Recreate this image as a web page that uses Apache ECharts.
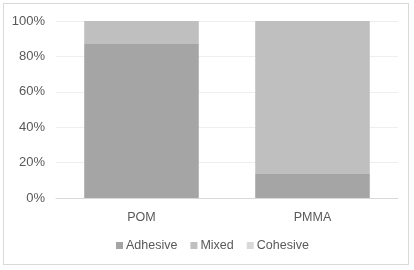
<!DOCTYPE html>
<html>
<head>
<meta charset="utf-8">
<script src="https://cdn.jsdelivr.net/npm/echarts@6/dist/echarts.min.js"></script>
<style>
  html, body { margin: 0; padding: 0; background: #fff; }
  #chart { position: absolute; left: 3px; top: 3px; width: 406px; height: 262px; border: 1px solid #d9d9d9; box-sizing: border-box; }
</style>
</head>
<body>
<div id="chart"></div>
<script>
// categories and shares (%)
const categories = ["POM", "PMMA"];
const adhesive = [87, 13.5];
const mixed = [13, 86.5];
const cohesive = [0, 0];

const yTicks = [0, 20, 40, 60, 80, 100];

const chart = echarts.init(document.getElementById("chart"));
const font = "Liberation Sans, Arial, sans-serif";
const option = {
  animation: false,
  grid: { left: 52, right: 10, top: 17, bottom: 66 },
  legend: {
    bottom: 7,
    left: 107,
    itemWidth: 7,
    itemHeight: 7,
    itemGap: 13,
    icon: "rect",
    textStyle: { color: "#595959", fontSize: 12.5, fontFamily: font, padding: [0, 0, 0, -2] },
    data: ["Adhesive", "Mixed", "Cohesive"]
  },
  xAxis: {
    type: "category",
    data: categories,
    axisLine: { lineStyle: { color: "#d9d9d9" } },
    axisTick: { show: false },
    axisLabel: { color: "#595959", fontSize: 12.5, fontFamily: font, margin: 13 }
  },
  yAxis: {
    type: "value",
    min: yTicks[0],
    max: yTicks[yTicks.length - 1],
    interval: 20,
    axisLine: { show: false },
    axisTick: { show: false },
    splitLine: { lineStyle: { color: "#eeeeee" } },
    axisLabel: { color: "#595959", fontSize: 13, fontFamily: font, margin: 11, formatter: "{value}%" }
  },
  series: [
    { name: "Adhesive", type: "bar", stack: "t", data: adhesive, barWidth: "67%", itemStyle: { color: "#a5a5a5" } },
    { name: "Mixed", type: "bar", stack: "t", data: mixed, itemStyle: { color: "#bfbfbf" } },
    { name: "Cohesive", type: "bar", stack: "t", data: cohesive, itemStyle: { color: "#d9d9d9" } }
  ]
};
chart.setOption(option);
</script>
</body>
</html>
